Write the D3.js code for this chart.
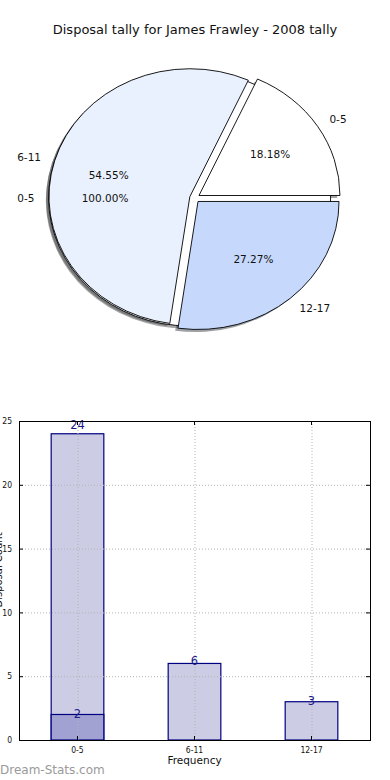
<!DOCTYPE html>
<html>
<head>
<meta charset="utf-8">
<script src="https://cdn.jsdelivr.net/npm/d3@7"></script>
<style>
  body { margin: 0; background: #fff; }
  svg { display: block; font-family: "DejaVu Sans", sans-serif; }
</style>
</head>
<body>
<svg id="chart"></svg>
<script>
// pie data
let pieLabels = ["0-5", "6-11", "12-17"]
let pieValues = [2, 6, 3]
let pieColors = ["#ffffff", "#eaf1fe", "#c6d9fd"]
// the single-slice pie drawn behind
let backLabels = ["0-5"]
let backValues = [24]
let backColors = ["#ffffff"]

// bar data
let categories = ["0-5", "6-11", "12-17"]
let tallyValues = [24, 6, 3]
let highlightCats = ["0-5"]
let highlightValues = [2]
let yTicks = [0, 5, 10, 15, 20, 25]

let width = 390
let height = 780

let svg = d3.select("#chart").attr("width", width).attr("height", height)

svg.append("text")
   .attr("x", 195)
   .attr("y", 34)
   .attr("text-anchor", "middle")
   .attr("font-size", 13)
   .attr("fill", "#111")
   .text("Disposal tally for James Frawley - 2008 tally")

// ---- pie ----
let cx = 194.7, cy = 198, rx = 141, ry = 128
let explode = 0.036

let arc = d3.arc().innerRadius(0).outerRadius(1)

let makePie = (vals) => d3.pie().sort(null)
  .startAngle(Math.PI / 2)
  .endAngle(Math.PI / 2 - 2 * Math.PI)(vals)

let darker = (c) => {
  let r = d3.rgb(c)
  return d3.rgb(r.r * 0.3, r.g * 0.3, r.b * 0.3).toString()
}

let shadowLayer = svg.append("g")
let wedgeLayer = svg.append("g")
let labelLayer = svg.append("g")

let drawPie = (vals, labels, colors) => {
  let total = d3.sum(vals)
  let arcs = makePie(vals)
  arcs.forEach((d, i) => {
    let mid = (d.startAngle + d.endAngle) / 2
    let ux = Math.sin(mid), uy = -Math.cos(mid)
    let ox = cx + explode * rx * ux
    let oy = cy + explode * ry * uy

    shadowLayer.append("path")
      .attr("d", arc(d))
      .attr("transform", `translate(${ox - 2.8},${oy + 2.6}) scale(${rx},${ry})`)
      .attr("fill", darker(colors[i]))
      .attr("fill-opacity", 0.5)

    wedgeLayer.append("path")
      .attr("d", arc(d))
      .attr("transform", `translate(${ox},${oy}) scale(${rx},${ry})`)
      .attr("fill", colors[i])
      .attr("stroke", "#000")
      .attr("stroke-width", 0.9)
      .attr("vector-effect", "non-scaling-stroke")

    let lx = ox + 1.1 * rx * ux
    let ly = oy + 1.1 * ry * uy
    labelLayer.append("text")
      .attr("x", lx)
      .attr("y", ly)
      .attr("dy", "0.35em")
      .attr("text-anchor", ux < 0 ? "end" : "start")
      .attr("font-size", 10.5)
      .attr("fill", "#111")
      .text(labels[i])

    labelLayer.append("text")
      .attr("x", ox + 0.6 * rx * ux)
      .attr("y", oy + 0.6 * ry * uy)
      .attr("dy", "0.35em")
      .attr("text-anchor", "middle")
      .attr("font-size", 10.5)
      .attr("fill", "#111")
      .text((100 * vals[i] / total).toFixed(2) + "%")
  })
}

drawPie(backValues, backLabels, backColors)
drawPie(pieValues, pieLabels, pieColors)

// ---- bars ----
let plotLeft = 19, plotRight = 370, plotTop = 421, plotBottom = 740

let xScale = d3.scaleBand().domain(categories).range([plotLeft, plotRight])
let yScale = d3.scaleLinear().domain([0, 25]).range([plotBottom, plotTop])
let barW = xScale.bandwidth() * 0.45
let xc = (c) => xScale(c) + xScale.bandwidth() / 2

let bars = svg.append("g")
bars.selectAll("rect.tally")
    .data(tallyValues)
    .enter()
    .append("rect")
    .attr("class", "tally")
    .attr("x", (d, i) => xc(categories[i]) - barW / 2)
    .attr("y", (d) => yScale(d))
    .attr("width", barW)
    .attr("height", (d) => plotBottom - yScale(d))
    .attr("fill", "#cccce4")
    .attr("stroke", "#000080")
    .attr("stroke-width", 1.2)

bars.selectAll("rect.hl")
    .data(highlightValues)
    .enter()
    .append("rect")
    .attr("class", "hl")
    .attr("x", (d, i) => xc(highlightCats[i]) - barW / 2)
    .attr("y", (d) => yScale(d))
    .attr("width", barW)
    .attr("height", (d) => plotBottom - yScale(d))
    .attr("fill", "#a2a2d2")
    .attr("stroke", "#000080")
    .attr("stroke-width", 1.2)

// grid on top
let grid = svg.append("g")
   .attr("stroke", "#b4b4b4")
   .attr("stroke-width", 1)
   .attr("stroke-dasharray", "1,2")
grid.selectAll("line.gy")
    .data(yTicks)
    .enter()
    .append("line")
    .attr("x1", plotLeft).attr("x2", plotRight)
    .attr("y1", (d) => yScale(d) + 0.5).attr("y2", (d) => yScale(d) + 0.5)
grid.selectAll("line.gx")
    .data(categories)
    .enter()
    .append("line")
    .attr("x1", (d) => xc(d) + 0.5).attr("x2", (d) => xc(d) + 0.5)
    .attr("y1", plotTop).attr("y2", plotBottom)

// bar value labels
let barLabels = svg.append("g")
   .attr("fill", "#1a1a8a")
   .attr("font-size", 11.5)
   .attr("text-anchor", "middle")
barLabels.selectAll("text.t")
    .data(tallyValues)
    .enter()
    .append("text")
    .attr("x", (d, i) => xc(categories[i]))
    .attr("y", (d) => yScale(d * 1.03))
    .attr("dy", "0.35em")
    .text((d) => d)
barLabels.selectAll("text.h")
    .data(highlightValues)
    .enter()
    .append("text")
    .attr("x", (d, i) => xc(highlightCats[i]))
    .attr("y", (d) => yScale(d * 1.03))
    .attr("dy", "0.35em")
    .text((d) => d)

// axes
let yAxis = d3.axisLeft(yScale).tickValues(yTicks).tickSizeInner(-4).tickSizeOuter(0).tickPadding(7)
let yAxisR = d3.axisRight(yScale).tickValues(yTicks).tickSizeInner(-4).tickSizeOuter(0).tickFormat("")
let xAxis = d3.axisBottom(xScale).tickSizeInner(-4).tickSizeOuter(0).tickPadding(7)
let xAxisT = d3.axisTop(xScale).tickSizeInner(-4).tickSizeOuter(0).tickFormat("")

let styleAxis = (g) => {
  g.select(".domain").remove()
  g.selectAll("text").attr("font-size", 8.5).attr("fill", "#111")
    .attr("font-family", "'Liberation Sans Narrow', 'DejaVu Sans Condensed', sans-serif")
}
svg.append("g").attr("transform", `translate(${plotLeft},0)`).call(yAxis).call(styleAxis)
svg.append("g").attr("transform", `translate(${plotRight},0)`).call(yAxisR).call(styleAxis)
svg.append("g").attr("transform", `translate(0,${plotBottom})`).call(xAxis).call(styleAxis)
svg.append("g").attr("transform", `translate(0,${plotTop})`).call(xAxisT).call(styleAxis)

svg.append("rect")
   .attr("x", plotLeft + 0.5).attr("y", plotTop + 0.5)
   .attr("width", plotRight - plotLeft).attr("height", plotBottom - plotTop)
   .attr("fill", "none")
   .attr("stroke", "#000")
   .attr("stroke-width", 1)

svg.append("text")
   .attr("x", xc("6-11"))
   .attr("y", 764)
   .attr("text-anchor", "middle")
   .attr("font-size", 10.5)
   .attr("fill", "#111")
   .text("Frequency")

// y label sits mostly past the left edge, as in the reference
svg.append("text")
   .attr("transform", "translate(2,570) rotate(-90)")
   .attr("text-anchor", "middle")
   .attr("font-size", 10)
   .attr("fill", "#111")
   .text("Disposal Count")

svg.append("text")
   .attr("x", 0)
   .attr("y", 774)
   .attr("font-size", 12)
   .attr("fill", "#9a9a9a")
   .text("Dream-Stats.com")
</script>
</body>
</html>
